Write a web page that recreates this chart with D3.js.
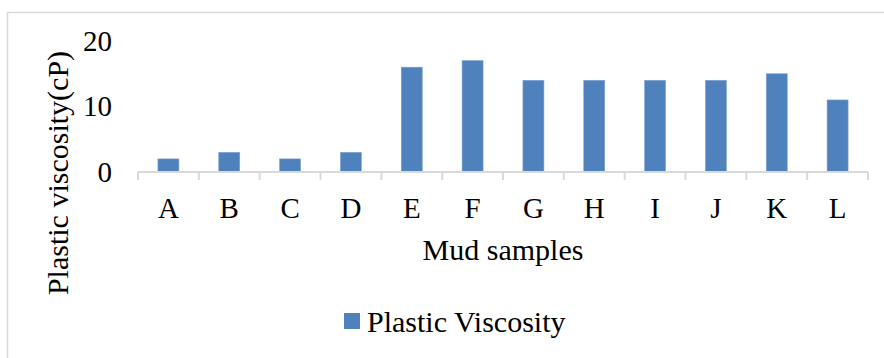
<!DOCTYPE html>
<html>
<head>
<meta charset="utf-8">
<script src="https://cdn.jsdelivr.net/npm/d3@7"></script>
<style>
  html, body { margin: 0; padding: 0; background: #fff; }
  svg { display: block; font-family: "Liberation Serif", "Times New Roman", serif; }
</style>
</head>
<body>
<div id="chart"></div>
<script>
const categories = ['A', 'B', 'C', 'D', 'E', 'F', 'G', 'H', 'I', 'J', 'K', 'L'];
const plasticViscosity = [2, 3, 2, 3, 16, 17, 14, 14, 14, 14, 15, 11];
const yTicks = [0, 10, 20];
const seriesName = 'Plastic Viscosity';
const xTitle = 'Mud samples';
const yTitle = 'Plastic viscosity(cP)';

const width = 884, height = 358;
const barColor = '#4f81bd';
const lineColor = '#d9d9d9';

const svg = d3.select('#chart').append('svg')
  .attr('width', width)
  .attr('height', height);

// chart area border (runs off the right and bottom edges)
svg.append('rect')
  .attr('x', 7.5).attr('y', 12.5)
  .attr('width', 900).attr('height', 400)
  .attr('fill', 'none')
  .attr('stroke', lineColor)
  .attr('stroke-width', 1.5);

const x = d3.scaleBand()
  .domain(categories)
  .range([138, 868])
  .padding(0);

const y = d3.scaleLinear()
  .domain([0, 20])
  .range([172, 41]);

const barW = x.bandwidth() * 0.345;

// bars
svg.append('g')
  .selectAll('rect')
  .data(categories)
  .enter().append('rect')
  .attr('x', (d) => x(d) + (x.bandwidth() - barW) / 2)
  .attr('y', (d, i) => y(plasticViscosity[i]))
  .attr('width', barW)
  .attr('height', (d, i) => y(0) - y(plasticViscosity[i]))
  .attr('fill', barColor)
  .attr('stroke', '#7fa2cf')
  .attr('stroke-width', 0.6);

// x axis line with ticks between categories
const xAxis = svg.append('g');
xAxis.append('line')
  .attr('x1', x.range()[0]).attr('x2', x.range()[1])
  .attr('y1', y(0)).attr('y2', y(0))
  .attr('stroke', lineColor)
  .attr('stroke-width', 2);

const bounds = categories.map((d) => x(d)).concat([x.range()[1]]);
xAxis.selectAll('line.tick')
  .data(bounds)
  .enter().append('line')
  .attr('class', 'tick')
  .attr('x1', (d) => d).attr('x2', (d) => d)
  .attr('y1', y(0)).attr('y2', y(0) + 8)
  .attr('stroke', lineColor)
  .attr('stroke-width', 2);

xAxis.selectAll('text')
  .data(categories)
  .enter().append('text')
  .attr('x', (d) => x(d) + x.bandwidth() / 2)
  .attr('y', 218)
  .attr('text-anchor', 'middle')
  .attr('font-size', 29)
  .attr('fill', '#000')
  .text((d) => d);

// y tick labels (no axis line)
svg.append('g')
  .selectAll('text')
  .data(yTicks)
  .enter().append('text')
  .attr('x', 112)
  .attr('y', (d) => y(d))
  .attr('dy', '0.34em')
  .attr('text-anchor', 'end')
  .attr('font-size', 29)
  .attr('fill', '#000')
  .text((d) => d);

// axis titles
svg.append('text')
  .attr('x', 503)
  .attr('y', 260)
  .attr('text-anchor', 'middle')
  .attr('font-size', 30)
  .text(xTitle);

svg.append('text')
  .attr('transform', 'translate(68,173) rotate(-90)')
  .attr('text-anchor', 'middle')
  .attr('font-size', 30)
  .text(yTitle);

// legend
const legend = svg.append('g').attr('transform', 'translate(344,313)');
legend.append('rect')
  .attr('width', 16).attr('height', 16)
  .attr('fill', barColor);
legend.append('text')
  .attr('x', 23)
  .attr('y', 19)
  .attr('font-size', 30)
  .text(seriesName);
</script>
</body>
</html>
